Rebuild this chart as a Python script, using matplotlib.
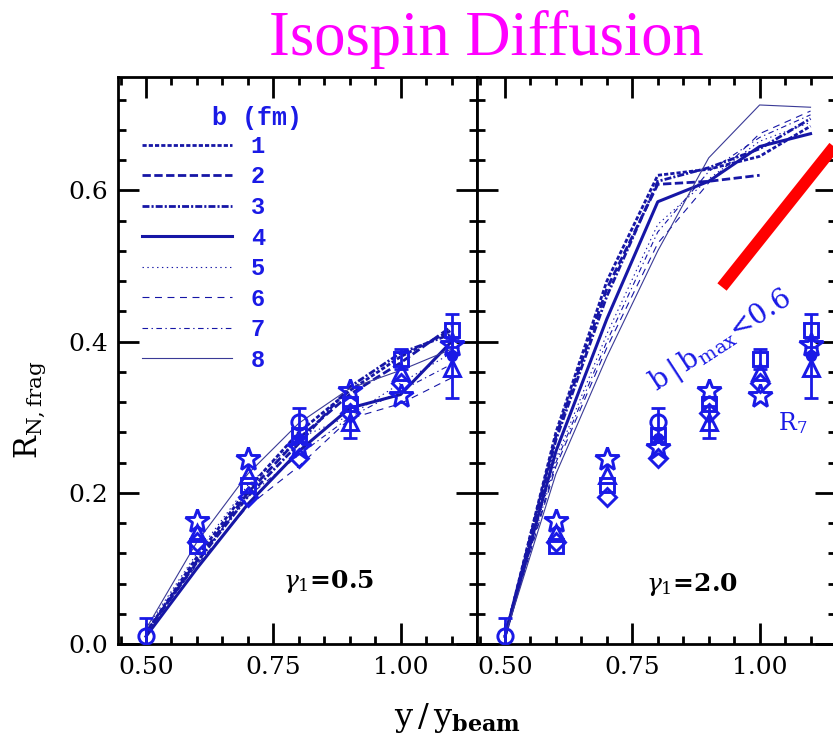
import matplotlib
matplotlib.use("Agg")
import matplotlib.pyplot as plt
import numpy as np
from matplotlib.lines import Line2D
from matplotlib.ticker import MultipleLocator, FixedLocator, FormatStrFormatter

plt.rcParams['font.family'] = 'DejaVu Serif'
plt.rcParams['mathtext.fontset'] = 'dejavuserif'
plt.rcParams['lines.scale_dashes'] = False

# --- data ---
x = np.array([0.5, 0.6, 0.7, 0.8, 0.9, 1.0, 1.1])
nan = np.nan

# transport model curves, one per impact parameter b (fm)
b_values = [1, 2, 3, 4, 5, 6, 7, 8]
curves_g05 = [
    [0.015, 0.115, 0.205, 0.280, 0.335, 0.380, 0.415],
    [0.015, 0.110, 0.200, 0.272, 0.330, 0.372, 0.420],
    [0.015, 0.108, 0.195, 0.265, 0.340, 0.385, 0.410],
    [0.010, 0.100, 0.185, 0.255, 0.312, 0.330, 0.400],
    [0.020, 0.120, 0.210, 0.272, 0.302, 0.345, 0.385],
    [0.015, 0.105, 0.182, 0.235, 0.298, 0.318, 0.352],
    [0.015, 0.110, 0.195, 0.250, 0.300, 0.335, 0.370],
    [0.020, 0.135, 0.225, 0.292, 0.338, 0.362, 0.390],
]
curves_g20 = [
    [0.010, 0.280, 0.480, 0.620, 0.628, 0.645, 0.685],
    [0.010, 0.275, 0.470, 0.608, 0.612, 0.620, nan],
    [0.010, 0.270, 0.460, 0.612, 0.630, 0.655, 0.695],
    [0.010, 0.255, 0.430, 0.585, 0.612, 0.658, 0.675],
    [0.010, 0.245, 0.410, 0.555, 0.615, 0.665, 0.690],
    [0.010, 0.235, 0.392, 0.530, 0.610, 0.675, 0.705],
    [0.010, 0.240, 0.400, 0.545, 0.625, 0.670, 0.700],
    [0.010, 0.225, 0.380, 0.520, 0.643, 0.713, 0.710],
]

# experimental points (same in both panels)
circle_y = [0.010, nan, nan, 0.293, nan, nan, nan]
circle_err = [0.025, nan, nan, 0.019, nan, nan, nan]
square_y = [nan, 0.130, 0.210, 0.276, 0.318, 0.377, 0.415]
square_err = [nan, nan, nan, nan, nan, 0.013, 0.022]
triangle_y = [nan, 0.147, 0.224, nan, 0.294, 0.360, 0.365]
triangle_err = [nan, nan, nan, nan, 0.021, nan, 0.040]
star_y = [nan, 0.163, 0.245, 0.259, 0.335, 0.328, 0.395]
diamond_y = [nan, 0.135, 0.194, 0.246, 0.305, 0.345, nan]
filled_y = [nan, nan, nan, 0.272, nan, nan, 0.381]

line_styles = [
    ((0, (3, 1.5)), 2.0),
    ((0, (6, 2.5)), 2.0),
    ((0, (5, 1.5, 1.5, 1.5)), 2.0),
    ('-', 2.2),
    ((0, (1, 2.5)), 0.8),
    ((0, (5, 4)), 0.8),
    ((0, (4, 2.5, 1, 2.5)), 0.8),
    ('-', 0.8),
]
line_color = '#1616a6'
thin_color = '#3a3a96'
mark_color = '#1a1ae6'

fig = plt.figure(figsize=(8.33, 7.36), dpi=100)
ax_l = fig.add_axes([118 / 833, 92 / 736, 359 / 833, 567 / 736])
ax_r = fig.add_axes([477 / 833, 92 / 736, 359 / 833, 567 / 736])

handles = []
for ax, curves in [(ax_l, curves_g05), (ax_r, curves_g20)]:
    for i, vals in enumerate(curves):
        ls, lw = line_styles[i]
        col = thin_color if i == 7 else line_color
        ln, = ax.plot(x, vals, linestyle=ls, lw=lw, color=col, zorder=2)
        if ax is ax_l:
            handles.append(ln)

    # data points
    for yv, err, mk, ms in [(circle_y, circle_err, 'o', 11),
                            (square_y, square_err, 's', 10),
                            (triangle_y, triangle_err, '^', 12)]:
        yv = np.array(yv)
        err = np.array(err)
        ok = np.isfinite(err)
        ax.errorbar(x[ok], yv[ok], yerr=err[ok], fmt='none', ecolor=mark_color,
                    elinewidth=2, capsize=5, capthick=2, zorder=3)
        ax.plot(x, yv, linestyle='none', marker=mk, ms=ms, mfc='none',
                mec=mark_color, mew=2.1, zorder=4)
    ax.plot(x, star_y, linestyle='none', marker='*', ms=18, mfc='none',
            mec=mark_color, mew=2.1, zorder=4)
    ax.plot(x, diamond_y, linestyle='none', marker='D', ms=9, mfc='none',
            mec=mark_color, mew=2.1, zorder=4)
    ax.plot(x, filled_y, linestyle='none', marker='o', ms=7, mfc=mark_color,
            mec=mark_color, zorder=4)

    ax.set_xlim(0.445, 1.15)
    ax.set_ylim(0, 0.75)
    ax.xaxis.set_major_locator(FixedLocator([0.5, 0.75, 1.0]))
    ax.xaxis.set_minor_locator(MultipleLocator(0.05))
    ax.yaxis.set_major_locator(MultipleLocator(0.2))
    ax.yaxis.set_minor_locator(MultipleLocator(0.04))
    ax.xaxis.set_major_formatter(FormatStrFormatter('%.2f'))
    ax.yaxis.set_major_formatter(FormatStrFormatter('%.1f'))
    ax.tick_params(which='both', direction='in', top=True, right=True, width=2,
                   labelsize=18)
    ax.tick_params(which='major', length=15)
    ax.tick_params(which='minor', length=6)
    ax.tick_params(axis='x', pad=9)
    ax.tick_params(axis='y', pad=7)
    for sp in ax.spines.values():
        sp.set_linewidth(2)

ax_r.tick_params(labelleft=False)

# legend
leg = ax_l.legend(handles, [str(b) for b in b_values], loc='upper left',
                  bbox_to_anchor=(0.067, 0.898), frameon=False, handlelength=3.8,
                  handletextpad=0.8, labelspacing=0.32, borderpad=0, borderaxespad=0,
                  prop={'family': 'Liberation Mono', 'weight': 'bold', 'size': 17},
                  labelcolor=mark_color)
ax_l.text(0.262, 0.928, 'b (fm)', transform=ax_l.transAxes, ha='left', va='center',
          fontsize=18, family='Liberation Mono', weight='bold', color=mark_color)

ax_l.text(0.46, 0.11, r'$\gamma_1$=0.5', transform=ax_l.transAxes, fontsize=18,
          ha='left', va='center', weight='bold')
ax_r.text(0.47, 0.105, r'$\gamma_1$=2.0', transform=ax_r.transAxes, fontsize=18,
          ha='left', va='center', weight='bold')

ax_r.text(0.68, 0.535, r'b$\,|\,$b$_{\mathregular{max}}$<0.6', transform=ax_r.transAxes,
          fontsize=20, color=mark_color, rotation=33, ha='center', va='center',
          rotation_mode='anchor')
ax_r.text(0.88, 0.39, r'R$_7$', transform=ax_r.transAxes, fontsize=17,
          color=mark_color, ha='center', va='center')

# red pointer line
fig.add_artist(Line2D([722 / 833, 860 / 833], [1 - 287 / 736, 1 - 114 / 736],
                      color='red', lw=8.5, solid_capstyle='butt',
                      transform=fig.transFigure))

fig.text(486 / 833, 1 - 55 / 736, 'Isospin Diffusion', fontsize=45,
         family='Liberation Serif', color='#ff00ff', ha='center', va='baseline')
fig.text(30 / 833, 1 - 410 / 736, r'R$_{\mathregular{N,frag}}$', fontsize=22,
         rotation=90, ha='center', va='center')
fig.text(458 / 833, 1 - 701 / 736, r'y$\,$/$\,$y$_{\mathbf{beam}}$', fontsize=23,
         ha='center', va='top')

fig.savefig('out.png', dpi=100)
